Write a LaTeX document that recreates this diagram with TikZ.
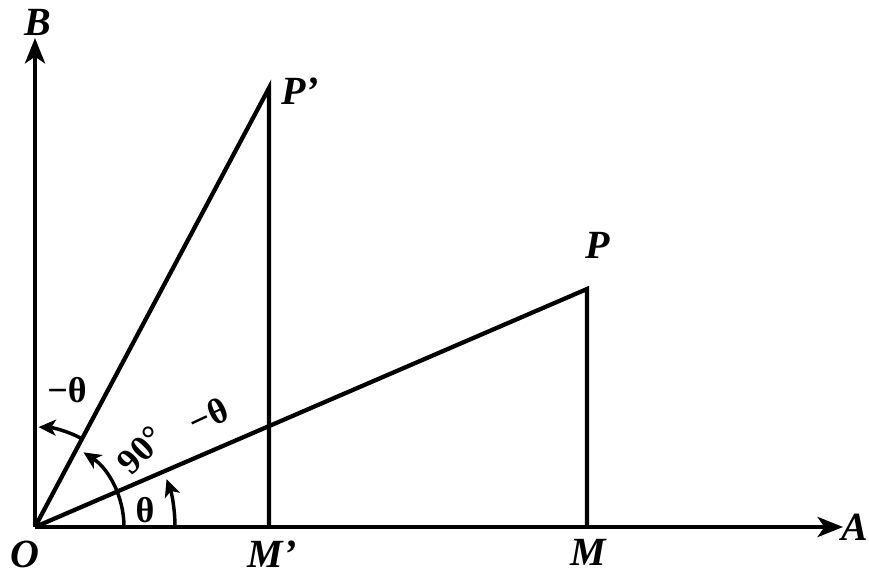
\documentclass[tikz,border=0pt]{standalone}
\usepackage{fontspec}
\setmainfont{Liberation Serif}
\usetikzlibrary{arrows.meta,calc}
\begin{document}
\begin{tikzpicture}[x=0.75pt,y=0.75pt,
  ln/.style={line width=3.2pt},
  ax/.style={line width=3.2pt,-{Stealth[length=19pt,width=15pt,inset=5pt]}},
  ang/.style={line width=2.6pt,-{Stealth[length=13pt,width=12pt,inset=3.5pt]}},
  lbl/.style={font=\fontsize{30}{30}\selectfont\bfseries\itshape, inner sep=0pt},
  albl/.style={font=\fontsize{27}{27}\selectfont\bfseries, inner sep=0pt}]
\useasboundingbox[fill=white] (0,0) rectangle (869,576);
\coordinate (O) at (35,49);
\coordinate (Bt) at (35,538);
\coordinate (At) at (843,49);
\coordinate (P) at (587,287);
\coordinate (M) at (587,49);
\coordinate (Pp) at (269,488);
\coordinate (Mp) at (269,49);
% axes
\draw[ax] (O) -- (Bt);
\draw[ax] (O) -- (At);
% lines
\draw[ln, line join=miter] (O) -- (Pp) -- (Mp);
\draw[ln, line join=miter] (O) -- (P) -- (M);
% angle arcs
\draw[ang] ($(O)+(0:140)$) arc[start angle=0,end angle=20,radius=140];
\draw[ang] ($(O)+(0:89)$) arc[start angle=0,end angle=57,radius=89];
\draw[ang] ($(O)+(62:100)$) arc[start angle=62,end angle=88,radius=100];
% labels
\node[lbl] (lB) at (38,554) {B};
\node[lbl] (lA) at (855,49) {A};
\node[lbl] (lO) at (25,22) {O};
\node[lbl] (lM) at (588,24) {M};
\node[lbl] (lMp) at (272,22) {M'};
\node[lbl] (lP) at (598,331) {P};
\node[lbl] (lPp) at (300,485) {P'};
\node[albl] (lt) at (145,66) {θ};
\node[albl, rotate=45] (l90) at (141,126) {90°};
\node[albl, rotate=25] (l90b) at (208,160) {−θ};
\node[albl] (lmt) at (67,186) {−θ};
\end{tikzpicture}
\end{document}
